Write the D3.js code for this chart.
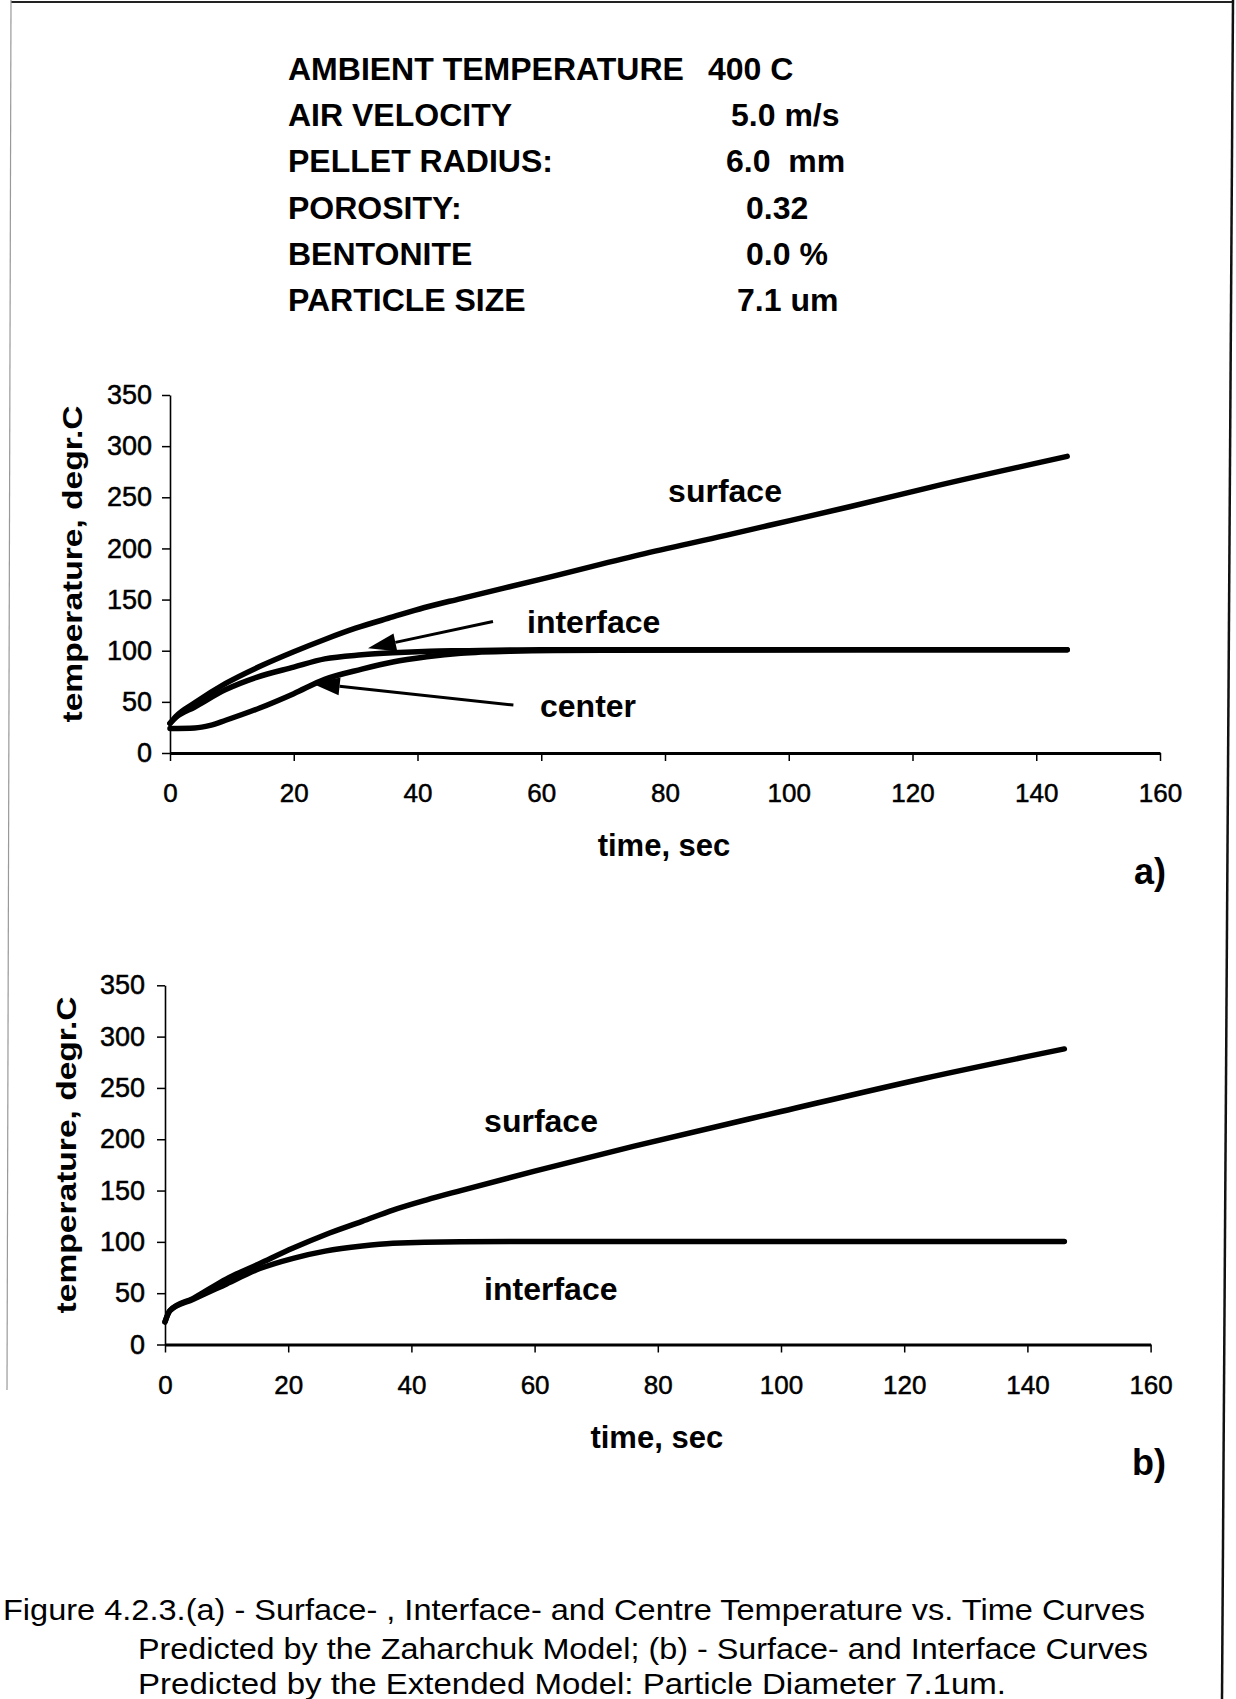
<!DOCTYPE html>
<html>
<head>
<meta charset="utf-8">
<script src="https://cdn.jsdelivr.net/npm/d3@7/dist/d3.min.js"></script>
<style>
  html, body { margin: 0; padding: 0; background: #fff; }
  svg { display: block; }
  text { font-family: "Liberation Sans", Arial, Helvetica, sans-serif; fill: #000; white-space: pre; }
</style>
</head>
<body>
<div id="chart"></div>
<script>
// ── Data ──
const paramNames  = ["AMBIENT TEMPERATURE", "AIR VELOCITY", "PELLET RADIUS:", "POROSITY:", "BENTONITE", "PARTICLE SIZE"];
const paramValues = ["400 C", "5.0 m/s", "6.0  mm", "0.32", "0.0 %", "7.1 um"];

const xTicks = [0, 20, 40, 60, 80, 100, 120, 140, 160];
const yTicks = [0, 50, 100, 150, 200, 250, 300, 350];

// (a) Zaharchuk model
const surfaceTimeA   = [0, 1, 4, 9, 15, 20, 25, 30, 36, 41, 47, 60, 76, 90, 100, 110, 123, 145];
const surfaceTempA   = [29, 36, 49, 68, 86, 99, 111, 122, 133, 142, 151, 170, 194, 213, 227, 241, 260, 290];
const interfaceTimeA = [0, 1, 4, 9, 14, 20, 25, 31, 36, 42, 47, 60, 145];
const interfaceTempA = [29, 35, 45, 62, 74, 84, 92, 96, 98, 99.5, 100, 101, 101];
const centerTimeA    = [0, 4, 6.5, 9, 14.5, 20, 25, 31, 36, 41.5, 47, 55, 70, 145];
const centerTempA    = [24, 24.5, 27, 32, 44, 58, 72, 82, 89, 94, 97.5, 99.5, 100.5, 101];

// (b) Extended model
const surfaceTimeB   = [0, 0.8, 4.6, 10, 15.4, 20.8, 26, 32, 37, 42.5, 48, 60, 76, 100, 123, 146];
const surfaceTempB   = [22, 33, 45, 64, 79, 94, 107, 120, 131, 141, 150, 169, 193, 227, 259, 288];
const interfaceTimeB = [0, 0.8, 4.6, 10, 15.4, 20.8, 26, 32, 37, 48, 60, 146];
const interfaceTempB = [22, 33, 44, 59, 74, 84, 91, 96, 98.6, 100.2, 100.4, 100.4];

// curve labels [text, time, temp] and arrows [fromTime, fromTemp, toTime, toTemp]
const labelsA = [["surface", 80.5, 245.7], ["interface", 57.7, 117], ["center", 59.8, 35.5]];
const arrowsA = [[52.2, 128.6, 32.0, 102.4], [55.5, 46.9, 22.9, 68.1]];
const labelsB = [["surface", 51.8, 207], ["interface", 51.8, 43.4]];

const captionLines = [
  "Figure 4.2.3.(a) - Surface- , Interface- and Centre Temperature vs. Time Curves",
  "Predicted by the Zaharchuk Model; (b) - Surface- and Interface Curves",
  "Predicted by the Extended Model: Particle Diameter 7.1um."
];

const zip = (ts, vs) => ts.map((t, i) => [t, vs[i]]);

// ── SVG ──
const W = 1236, H = 1699;
const svg = d3.select("#chart").append("svg").attr("width", W).attr("height", H);

// scanned page border
svg.append("line").attr("x1", 11).attr("y1", 2).attr("x2", 1233).attr("y2", 2)
  .attr("stroke", "#222").attr("stroke-width", 2);
svg.append("line").attr("x1", 1233).attr("y1", 0).attr("x2", 1222).attr("y2", 1699)
  .attr("stroke", "#111").attr("stroke-width", 2.5);
svg.append("line").attr("x1", 11).attr("y1", 0).attr("x2", 7).attr("y2", 1390)
  .attr("stroke", "#999").attr("stroke-width", 1.2);

// ── Parameter block ──
const params = svg.append("g").attr("class", "params");
const valueX = [708, 731, 726, 746, 746, 737];
paramNames.forEach((name, i) => {
  const yb = 80 + i * 46.2;
  params.append("text").attr("x", 288).attr("y", yb)
    .style("font-size", "32px").style("font-weight", "bold").text(name);
  params.append("text").attr("x", valueX[i]).attr("y", yb)
    .style("font-size", "32px").style("font-weight", "bold").text(paramValues[i]);
});

// ── Panels ──
function drawPanel(cfg) {
  const g = svg.append("g");
  const x = d3.scaleLinear().domain([0, 160]).range([cfg.left, cfg.right]);
  const y = d3.scaleLinear().domain([0, 350]).range([cfg.bottom, cfg.top]);

  const xAxis = g.append("g").attr("transform", `translate(0,${cfg.bottom})`)
    .call(d3.axisBottom(x).tickValues(xTicks).tickSize(8).tickSizeOuter(0).tickPadding(23));
  xAxis.select(".domain").attr("stroke", "#000").attr("stroke-width", 3);
  xAxis.selectAll(".tick line").attr("stroke", "#000").attr("stroke-width", 1.5);
  xAxis.selectAll(".tick text").style("font-size", "26px").style("font-family", null)
    .attr("fill", "#000").attr("stroke", "#000").attr("stroke-width", 0.5);

  const yAxis = g.append("g").attr("transform", `translate(${cfg.left},0)`)
    .call(d3.axisLeft(y).tickValues(yTicks).tickSize(8).tickSizeOuter(0).tickPadding(cfg.yPad));
  yAxis.select(".domain").attr("stroke", "#000").attr("stroke-width", 1.6);
  yAxis.selectAll(".tick line").attr("stroke", "#000").attr("stroke-width", 1.5);
  yAxis.selectAll(".tick text").style("font-size", "27px").style("font-family", null)
    .attr("fill", "#000").attr("stroke", "#000").attr("stroke-width", 0.5);

  const line = d3.line().x(d => x(d[0])).y(d => y(d[1])).curve(d3.curveMonotoneX);
  cfg.series.forEach(s => {
    g.append("path").datum(s).attr("d", line)
      .attr("fill", "none").attr("stroke", "#000")
      .attr("stroke-width", 5.5).attr("stroke-linecap", "round").attr("stroke-linejoin", "round");
  });

  cfg.labels.forEach(([txt, t, v]) => {
    g.append("text").attr("x", x(t)).attr("y", y(v))
      .style("font-size", "32px").style("font-weight", "bold").text(txt);
  });

  (cfg.arrows || []).forEach(([t0, v0, t1, v1]) => {
    const x0 = x(t0), y0 = y(v0), x1 = x(t1), y1 = y(v1);
    const ang = Math.atan2(y1 - y0, x1 - x0);
    const len = 28, hw = 9;
    const bx = x1 - len * Math.cos(ang), by = y1 - len * Math.sin(ang);
    g.append("line").attr("x1", x0).attr("y1", y0).attr("x2", bx).attr("y2", by)
      .attr("stroke", "#000").attr("stroke-width", 3);
    g.append("path")
      .attr("d", `M${x1},${y1}L${bx + hw * Math.sin(ang)},${by - hw * Math.cos(ang)}L${bx - hw * Math.sin(ang)},${by + hw * Math.cos(ang)}Z`)
      .attr("fill", "#000");
  });

  // axis titles
  g.append("text").attr("x", (cfg.left + cfg.right) / 2 - 1).attr("y", cfg.bottom + 103)
    .attr("text-anchor", "middle").style("font-size", "31px").style("font-weight", "bold")
    .text("time, sec");
  g.append("text")
    .attr("transform", `translate(${cfg.titleX},${(cfg.top + cfg.bottom) / 2 - 10}) rotate(-90)`)
    .attr("text-anchor", "middle").style("font-size", "27px").style("font-weight", "bold")
    .attr("textLength", 317).attr("lengthAdjust", "spacingAndGlyphs")
    .text("temperature, degr.C");
  g.append("text").attr("x", 1166).attr("y", cfg.bottom + cfg.tagDy)
    .attr("text-anchor", "end").style("font-size", "36px").style("font-weight", "bold")
    .text(cfg.tag);
}

drawPanel({
  left: 170, right: 1160, top: 395, bottom: 753, yPad: 10, titleX: 82, tagDy: 131, tag: "a)",
  series: [zip(surfaceTimeA, surfaceTempA), zip(interfaceTimeA, interfaceTempA), zip(centerTimeA, centerTempA)],
  labels: labelsA, arrows: arrowsA
});

drawPanel({
  left: 165, right: 1150.6, top: 985.3, bottom: 1344.5, yPad: 12, titleX: 76, tagDy: 130, tag: "b)",
  series: [zip(surfaceTimeB, surfaceTempB), zip(interfaceTimeB, interfaceTempB)],
  labels: labelsB
});

// ── Caption ──
const capX = [3, 138, 138], capW = [1142, 1010, 868], capY = [1620, 1659, 1694];
captionLines.forEach((txt, i) => {
  svg.append("text").attr("x", capX[i]).attr("y", capY[i])
    .style("font-size", "30px")
    .attr("textLength", capW[i]).attr("lengthAdjust", "spacingAndGlyphs")
    .text(txt);
});
</script>
</body>
</html>
